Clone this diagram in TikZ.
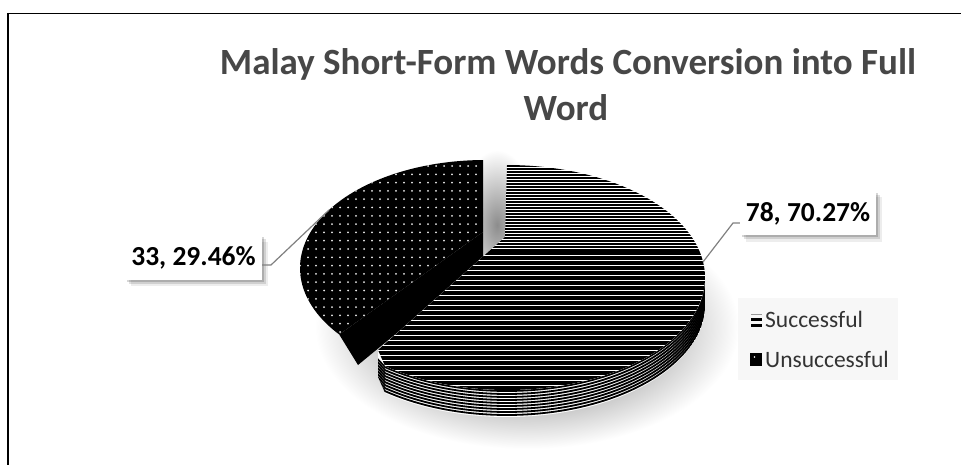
\documentclass[tikz,border=0pt]{standalone}
\usepackage{fontspec}
\setmainfont{Carlito}
\usetikzlibrary{shadows}
\begin{document}
\begin{tikzpicture}[x=1pt,y=-1pt,
  titlef/.style={font=\bfseries\fontsize{37}{44}\selectfont, text=black!72, inner sep=0},
  lblbox/.style={fill=white, font=\bfseries\fontsize{27.5}{32}\selectfont, text=black, inner sep=0,
     minimum width=136, minimum height=44,
     drop shadow={shadow xshift=2pt,shadow yshift=-2pt,opacity=0.16,fill=black},
     drop shadow={shadow xshift=4pt,shadow yshift=-4pt,opacity=0.12,fill=black},
     drop shadow={shadow xshift=6pt,shadow yshift=-6pt,opacity=0.07,fill=black}},
  legf/.style={font=\fontsize{23.5}{28}\selectfont, text=black!80, inner sep=0, anchor=base west},
  leader/.style={draw=black!50, line width=1.2},
  frameline/.style={line width=1.8, black},
]
\def\scx{507}\def\scy{277.5}\def\srx{198}\def\sry{112.5}
\def\bcx{485}\def\bcy{268}\def\brx{185}\def\bry{108}
\def\dep{27}
\useasboundingbox (0,0) rectangle (961,465);
\fill[white] (0,0) rectangle (961,465);
% frame
\draw[frameline] (7,13.5) -- (961,13.5);
\draw[frameline] (8,13) -- (8,465);
% title
\node[titlef, anchor=base] (t1) at (568,75) {Malay Short-Form Words Conversion into Full};
\node[titlef, anchor=base] (t2) at (566,121) {Word};
% soft shadow under the pie
\shade[inner color=black!70, outer color=white] (527,327) ellipse [x radius=212, y radius=122];
\shade[inner color=black!45, outer color=white] (497,225) ellipse [x radius=40, y radius=75];
% ---- Unsuccessful slice (exploded, black with dots)
\fill[black] (483,232) -- ({\bcx+\brx*cos(218)},{\bcy-\bry*sin(218)}) -- (358,365) -- (483,262) -- cycle;
\fill[black] (483,232) -- plot[domain=90.6:218,samples=80] ({\bcx+\brx*cos(\x)},{\bcy-\bry*sin(\x)}) -- cycle;
\begin{scope}
\clip (483,232) -- plot[domain=90.6:218,samples=80] ({\bcx+\brx*cos(\x)},{\bcy-\bry*sin(\x)}) -- cycle;
\foreach \i in {0,...,26} \foreach \j in {0,...,22} {
  \fill[black!8] ({292+8*\i},{166+8.3*\j}) circle (1.0);
}
\end{scope}
% ---- Successful slice (striped)
\begin{scope}
\clip (378,350) -- plot[domain=-128:2,samples=80] ({\scx+\srx*cos(\x)},{\scy-\sry*sin(\x)})
   -- plot[domain=2:-128,samples=80] ({\scx+\srx*cos(\x)},{\scy-\sry*sin(\x)+\dep}) -- (378,350+\dep) -- cycle;
\fill[white] (300,250) rectangle (720,430);
\foreach \k in {0,...,8} \draw[line width=1.8] (370,{351+3*\k}) -- plot[domain=-128:4,samples=80] ({\scx+\srx*cos(\x)},{\scy-\sry*sin(\x)+1+3*\k});
\end{scope}
\begin{scope}
\clip (505,237) -- (378,350) -- plot[domain=-128:90,samples=100] ({\scx+\srx*cos(\x)},{\scy-\sry*sin(\x)}) -- cycle;
\fill[white] (290,150) rectangle (720,400);
\foreach \y in {166,169,...,250} \draw[line width=1.8] (290,\y) -- (720,\y);
\foreach \y in {253,258,...,395} \draw[line width=3.2] (290,\y) -- (720,\y);
\end{scope}
% ---- data labels
\node[lblbox] (lab78) at (808,213.5) {78, 70.27\%};
\node[lblbox, minimum width=137] (lab33) at (193.5,257.5) {33, 29.46\%};
\coordinate (rp) at (703,262);
\coordinate (rk) at (733,223);
\coordinate (lp) at (329,210);
\coordinate (lk) at (271,265);
\draw[leader] (rp) -- (rk) -- (lab78.west |- rk);
\draw[leader] (lab33.east |- lk) -- (lk) -- (lp);
% ---- legend
\node[fill=black!3, minimum width=160, minimum height=82, inner sep=0] (leg) at (818,339) {};
\node[legf] (ls) at (765,327) {Successful};
\node[legf] (lu) at (765,367) {Unsuccessful};
\draw[black!40, line width=0.8] (751,314) -- (762,314);
\draw[black, line width=2.2] (751,319.5) -- (762,319.5);
\draw[black, line width=2.6] (751,325.5) -- (762,325.5);
\fill[black] (750,353) rectangle (762,366);
\fill[white] (754.5,357) circle (0.9);
\end{tikzpicture}
\end{document}
